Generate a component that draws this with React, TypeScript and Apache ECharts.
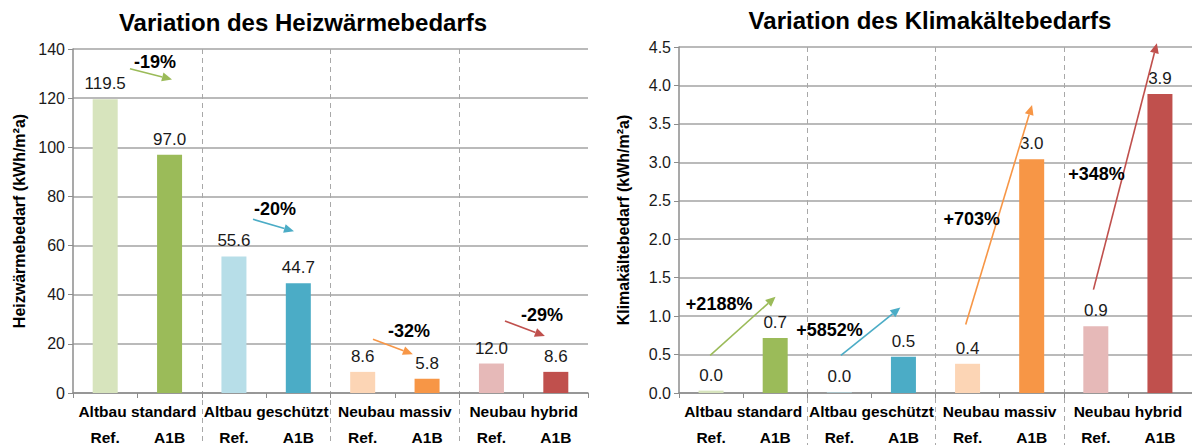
import React, { useEffect, useRef } from "react";
import * as echarts from "echarts";

const groups = ["Altbau standard", "Altbau geschützt", "Neubau massiv", "Neubau hybrid"];
const subLabels = ["Ref.", "A1B", "Ref.", "A1B", "Ref.", "A1B", "Ref.", "A1B"];
const heatValues = [119.5, 97.0, 55.6, 44.7, 8.6, 5.8, 12.0, 8.6];
const coolValues = [0.031, 0.715, 0.008, 0.47, 0.38, 3.04, 0.868, 3.89];
const barColors = ["#D7E4BD", "#9BBB59", "#B7DEE8", "#4BACC6", "#FCD5B5", "#F79646", "#E6B9B8", "#C0504D"];
const arrowColors = ["#9BBB59", "#4BACC6", "#F79646", "#C0504D"];
const heatTicks = { min: 0, max: 140, interval: 20 };
const coolTicks = { min: 0, max: 4.5, interval: 0.5 };

// arrows: [x1, y1, x2, y2, labelX, labelY] in (sub-category index, value) units
const heatArrowLabels = ["-19%", "-20%", "-32%", "-29%"];
const heatArrows = [
  [0.885, 132.0, 1.538, 127.6, 1.274, 134.9],
  [2.796, 70.7, 3.433, 65.8, 3.138, 74.8],
  [4.66, 21.9, 5.28, 15.8, 5.22, 25.2],
  [6.71, 29.3, 7.33, 23.2, 7.285, 31.7],
];
const coolArrowLabels = ["+2188%", "+5852%", "+703%", "+348%"];
const coolArrows = [
  [0.486, 0.49, 1.506, 1.253, 0.626, 1.163],
  [2.525, 0.49, 3.452, 1.111, 2.347, 0.814],
  [4.471, 0.891, 5.506, 3.747, 4.564, 2.261],
  [6.463, 1.344, 7.452, 4.548, 6.51, 2.842],
];

const FONT = 'Arial, "Liberation Sans", sans-serif';
const GRID_COLOR = "#a3a3a3";
const AXIS_COLOR = "#8c8c8c";

function makeArrowRenderer(labels: string[]) {
  return (params: any, api: any) => {
    const i = params.dataIndex;
    const p1 = api.coord([api.value(0), api.value(1)]);
    const p2 = api.coord([api.value(2), api.value(3)]);
    const pt = api.coord([api.value(4), api.value(5)]);
    const color = arrowColors[i];
    const ang = Math.atan2(p2[1] - p1[1], p2[0] - p1[0]);
    const hl = 10;
    const hw = 4.5;
    const c = Math.cos(ang);
    const s = Math.sin(ang);
    const base = [p2[0] - hl * c, p2[1] - hl * s];
    const l = [base[0] + hw * s, base[1] - hw * c];
    const r = [base[0] - hw * s, base[1] + hw * c];
    return {
      type: "group",
      children: [
        { type: "line", shape: { x1: p1[0], y1: p1[1], x2: base[0], y2: base[1] }, style: { stroke: color, lineWidth: 1.6 } },
        { type: "polygon", shape: { points: [p2, l, r] }, style: { fill: color } },
        {
          type: "text",
          x: pt[0],
          y: pt[1],
          style: { text: labels[i], fill: "#000", fontSize: 18, fontWeight: "bold", fontFamily: FONT, align: "center", verticalAlign: "middle" },
        },
      ],
    };
  };
}

function chartAxes(gridMain: number, gridDiv: number, ticks: any, name: string, nameGap: number, fmt: (v: number) => string) {
  const xAxes = [
    {
      type: "category",
      gridIndex: gridMain,
      data: subLabels,
      position: "bottom",
      axisLine: { show: true, lineStyle: { color: AXIS_COLOR, width: 1.5 } },
      axisTick: { show: true, interval: 0, length: 5, lineStyle: { color: AXIS_COLOR } },
      axisLabel: { interval: 0, margin: 36, fontSize: 15.5, fontWeight: "bold", color: "#000", fontFamily: FONT },
      splitLine: { show: false },
    },
    {
      type: "category",
      gridIndex: gridMain,
      data: groups,
      position: "bottom",
      offset: 0,
      axisLine: { show: false },
      axisTick: { show: false },
      axisLabel: { interval: 0, margin: 10, fontSize: 15.5, fontWeight: "bold", color: "#000", fontFamily: FONT },
      splitLine: { show: false },
    },
    { type: "value", gridIndex: gridMain, min: 0, max: 8, show: false },
    {
      type: "value",
      gridIndex: gridDiv,
      min: 0,
      max: 4,
      interval: 1,
      axisLine: { show: false },
      axisTick: { show: false },
      axisLabel: { show: false },
      splitLine: { show: true, showMinLine: false, showMaxLine: false, lineStyle: { color: "#a8a8a8", type: [5, 4], width: 1 } },
    },
  ];
  const yAxes = [
    {
      type: "value",
      gridIndex: gridMain,
      min: ticks.min,
      max: ticks.max,
      interval: ticks.interval,
      name,
      nameLocation: "middle",
      nameGap,
      nameTextStyle: { fontSize: 16, fontWeight: "bold", color: "#000", fontFamily: FONT },
      axisLine: { show: true, lineStyle: { color: AXIS_COLOR, width: 1.5 } },
      axisTick: { show: true, length: 5, lineStyle: { color: AXIS_COLOR } },
      axisLabel: { fontSize: 16, color: "#1a1a1a", fontFamily: FONT, margin: 8, formatter: fmt },
      splitLine: { show: true, lineStyle: { color: GRID_COLOR, width: 1.5 } },
    },
    { type: "value", gridIndex: gridDiv, min: 0, max: 1, show: false },
  ];
  return { xAxes, yAxes };
}

export default function App() {
  const ref = useRef<HTMLDivElement>(null);
  useEffect(() => {
    if (!ref.current) return;
    const chart = echarts.init(ref.current, null, { renderer: "svg" });
    const left = chartAxes(0, 1, heatTicks, "Heizwärmebedarf (kWh/m²a)", 46, (v: number) => String(v));
    const right = chartAxes(2, 3, coolTicks, "Klimakältebedarf (kWh/m²a)", 48, (v: number) => v.toFixed(1));
    const labelStyle = {
      show: true,
      position: "top",
      distance: 7,
      fontSize: 17,
      color: "#1a1a1a",
      fontFamily: FONT,
      formatter: (p: any) => Number(p.value).toFixed(1),
    };
    const option: any = {
      animation: false,
      backgroundColor: "#fff",
      grid: [
        { left: 73, top: 49, width: 515, height: 345, containLabel: false },
        { left: 73, top: 49, width: 515, height: 396 },
        { left: 679, top: 47, width: 518, height: 348 },
        { left: 679, top: 47, width: 518, height: 398 },
      ],
      xAxis: [...left.xAxes, ...right.xAxes],
      yAxis: [...left.yAxes, ...right.yAxes],
      graphic: [
        {
          type: "text",
          x: 303,
          y: 22,
          style: { text: "Variation des Heizwärmebedarfs", fontSize: 24, fontWeight: "bold", fontFamily: FONT, fill: "#000", align: "center", verticalAlign: "middle" },
        },
        {
          type: "text",
          x: 930,
          y: 20,
          style: { text: "Variation des Klimakältebedarfs", fontSize: 24, fontWeight: "bold", fontFamily: FONT, fill: "#000", align: "center", verticalAlign: "middle" },
        },
      ],
      series: [
        {
          type: "bar",
          xAxisIndex: 0,
          yAxisIndex: 0,
          barWidth: 25,
          data: heatValues.map((v, i) => ({ value: v, itemStyle: { color: barColors[i] } })),
          label: labelStyle,
        },
        {
          type: "custom",
          xAxisIndex: 2,
          yAxisIndex: 0,
          clip: false,
          z: 5,
          renderItem: makeArrowRenderer(heatArrowLabels),
          data: heatArrows,
        },
        {
          type: "bar",
          xAxisIndex: 4,
          yAxisIndex: 2,
          barWidth: 25,
          data: coolValues.map((v, i) => ({ value: v, itemStyle: { color: barColors[i] } })),
          label: labelStyle,
        },
        {
          type: "custom",
          xAxisIndex: 6,
          yAxisIndex: 2,
          clip: false,
          z: 5,
          renderItem: makeArrowRenderer(coolArrowLabels),
          data: coolArrows,
        },
      ],
    };
    chart.setOption(option);
    return () => chart.dispose();
  }, []);
  return (
    <div
      ref={ref}
      style={{ position: "absolute", left: 0, top: 0, width: 1192, height: 445, background: "#fff" }}
    />
  );
}
